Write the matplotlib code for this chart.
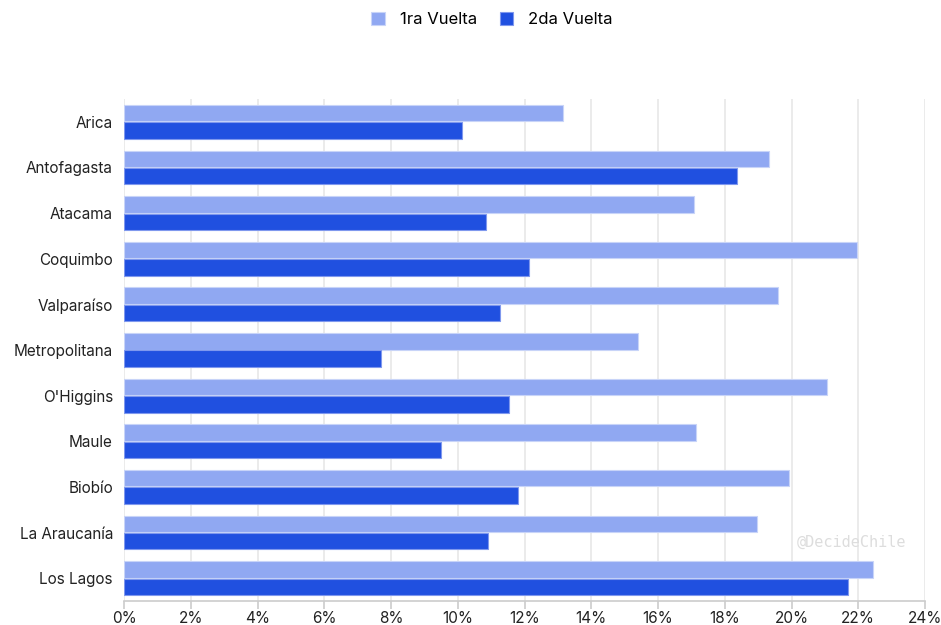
import matplotlib
matplotlib.use("Agg")
import matplotlib.pyplot as plt
import numpy as np

plt.rcParams['font.family'] = ['Inter', 'DejaVu Sans']

regions = ["Arica", "Antofagasta", "Atacama", "Coquimbo", "Valparaíso", "Metropolitana",
           "O'Higgins", "Maule", "Biobío", "La Araucanía", "Los Lagos"]
primera = [13.15, 19.33, 17.08, 21.96, 19.6, 15.4, 21.06, 17.14, 19.93, 18.97, 22.44]
segunda = [10.13, 18.37, 10.85, 12.13, 11.27, 7.7, 11.54, 9.5, 11.8, 10.9, 21.69]
series_names = ["1ra Vuelta", "2da Vuelta"]
xticks = list(range(0, 25, 2))
xtick_labels = [f"{t}%" for t in xticks]

c1 = "#90A8F2"
c2 = "#2050E0"

fig = plt.figure(figsize=(9.41, 6.25), dpi=100)
ax = fig.add_axes([0.1318, 0.0384, 0.8512, 0.8032])

y = np.arange(len(regions))
h = 0.36
ax.barh(y - h/2 - 0.01, primera, height=h, color=c1, edgecolor="#c8d4f8", linewidth=0.8, label=series_names[0], zorder=3)
ax.barh(y + h/2 + 0.01, segunda, height=h, color=c2, edgecolor="#7f98ee", linewidth=0.8, label=series_names[1], zorder=3)

ax.set_ylim(len(regions) - 0.5, -0.5)
ax.set_xlim(0, 24)
ax.set_yticks(y)
ax.set_yticklabels(regions, fontsize=11, color="#222222")
ax.set_xticks(xticks)
ax.set_xticklabels(xtick_labels, fontsize=11, color="#222222")
ax.tick_params(axis='y', length=0, pad=8)
ax.tick_params(axis='x', length=6, color="#cccccc", width=1.2, pad=1)

for s in ["top", "right", "left"]:
    ax.spines[s].set_visible(False)
ax.spines["bottom"].set_color("#cccccc")
ax.spines["bottom"].set_linewidth(1.2)
ax.grid(axis='x', color="#e8e8e8", linewidth=1.2, zorder=0)
ax.set_axisbelow(True)

fig.legend(loc="upper center", bbox_to_anchor=(0.523, 1.005), ncol=2, frameon=False,
           fontsize=12, handlelength=0.8, handleheight=0.8, columnspacing=1.4, handletextpad=0.9)

fig.text(0.963, 0.132, "@DecideChile", fontsize=11, color="#dddddd",
         family="DejaVu Sans Mono", ha="right", va="center")

fig.savefig("out.png", dpi=100, facecolor="white")
